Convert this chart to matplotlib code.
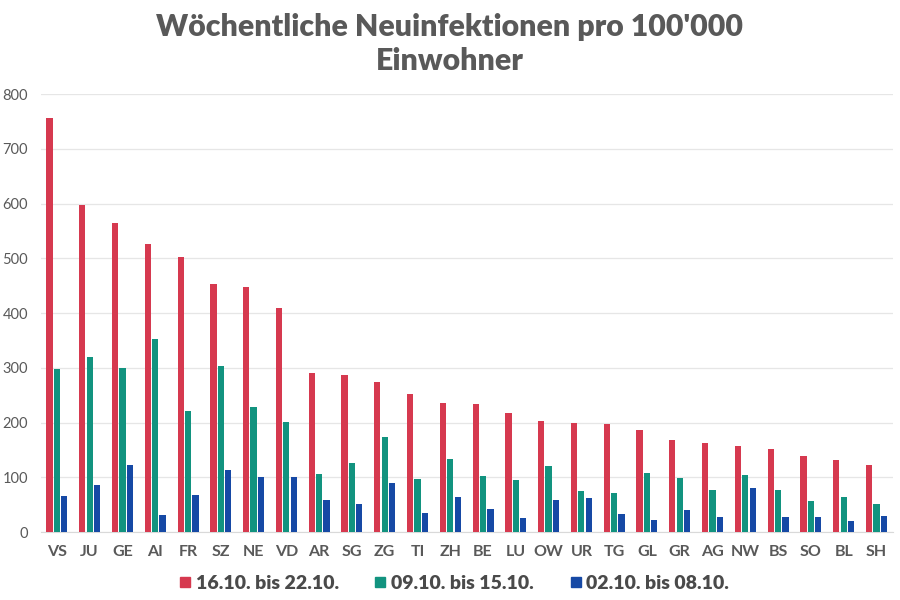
import numpy as np
import matplotlib.pyplot as plt

plt.rcParams['font.family'] = ['Lato', 'DejaVu Sans']

# Data (weekly new infections per 100'000 inhabitants)
cantons = ["VS", "JU", "GE", "AI", "FR", "SZ", "NE", "VD", "AR", "SG", "ZG", "TI", "ZH",
           "BE", "LU", "OW", "UR", "TG", "GL", "GR", "AG", "NW", "BS", "SO", "BL", "SH"]
week_1622 = [756, 597, 565, 527, 503, 454, 447, 410, 290, 288, 275, 253, 236,
             235, 218, 203, 200, 198, 187, 169, 163, 158, 152, 139, 131, 122]
week_0915 = [298, 320, 300, 353, 222, 303, 229, 201, 107, 127, 173, 97, 133,
             103, 96, 121, 76, 72, 108, 99, 77, 105, 77, 57, 65, 52]
week_0208 = [66, 87, 122, 31, 68, 113, 100, 101, 59, 51, 90, 35, 65,
             43, 26, 58, 62, 33, 22, 40, 27, 80, 28, 28, 20, 30]
labels = ["16.10. bis 22.10.", "09.10. bis 15.10.", "02.10. bis 08.10."]
colors = ["#D6394F", "#12937F", "#1649A5"]

fig = plt.figure(figsize=(9, 6), dpi=100)
ax = fig.add_axes([0.045, 0.113, 0.947, 0.730])

x = np.arange(len(cantons))
w = 0.19
step = 0.225
for i, (vals, lab, col) in enumerate(zip([week_1622, week_0915, week_0208], labels, colors)):
    ax.bar(x + (i - 1) * step, vals, width=w, color=col, label=lab, zorder=3)

ax.set_xlim(-0.5, len(cantons) - 0.5)
ax.set_ylim(0, 800)
ax.set_yticks(range(0, 801, 100))
ax.set_xticks(x)
ax.set_xticklabels(cantons, fontsize=11.5, fontweight='bold', color='#595959')
ax.tick_params(axis='y', labelsize=10.5, labelcolor='#595959', length=0, pad=9)
ax.tick_params(axis='x', length=0, pad=9)
ax.grid(axis='y', color='#E6E6E6', linewidth=0.9, zorder=0)
for s in ['top', 'right', 'left']:
    ax.spines[s].set_visible(False)
ax.spines['bottom'].set_color('#D9D9D9')

fig.text(0.5, 0.978, "Wöchentliche Neuinfektionen pro 100'000\nEinwohner",
         ha='center', va='top', fontsize=21.8, fontweight='heavy', color='#595959',
         linespacing=1.25)

handles = [plt.Line2D([], [], marker='s', linestyle='', markersize=7, color=c) for c in colors]
fig.legend(handles, labels, loc='center', bbox_to_anchor=(0.503, 0.028), ncol=3, frameon=False,
           prop={'size': 14, 'weight': 'heavy'}, labelcolor='#4a4a4a', handletextpad=0.1,
           columnspacing=1.7, handlelength=0.9)

fig.savefig("out.png", dpi=100)
